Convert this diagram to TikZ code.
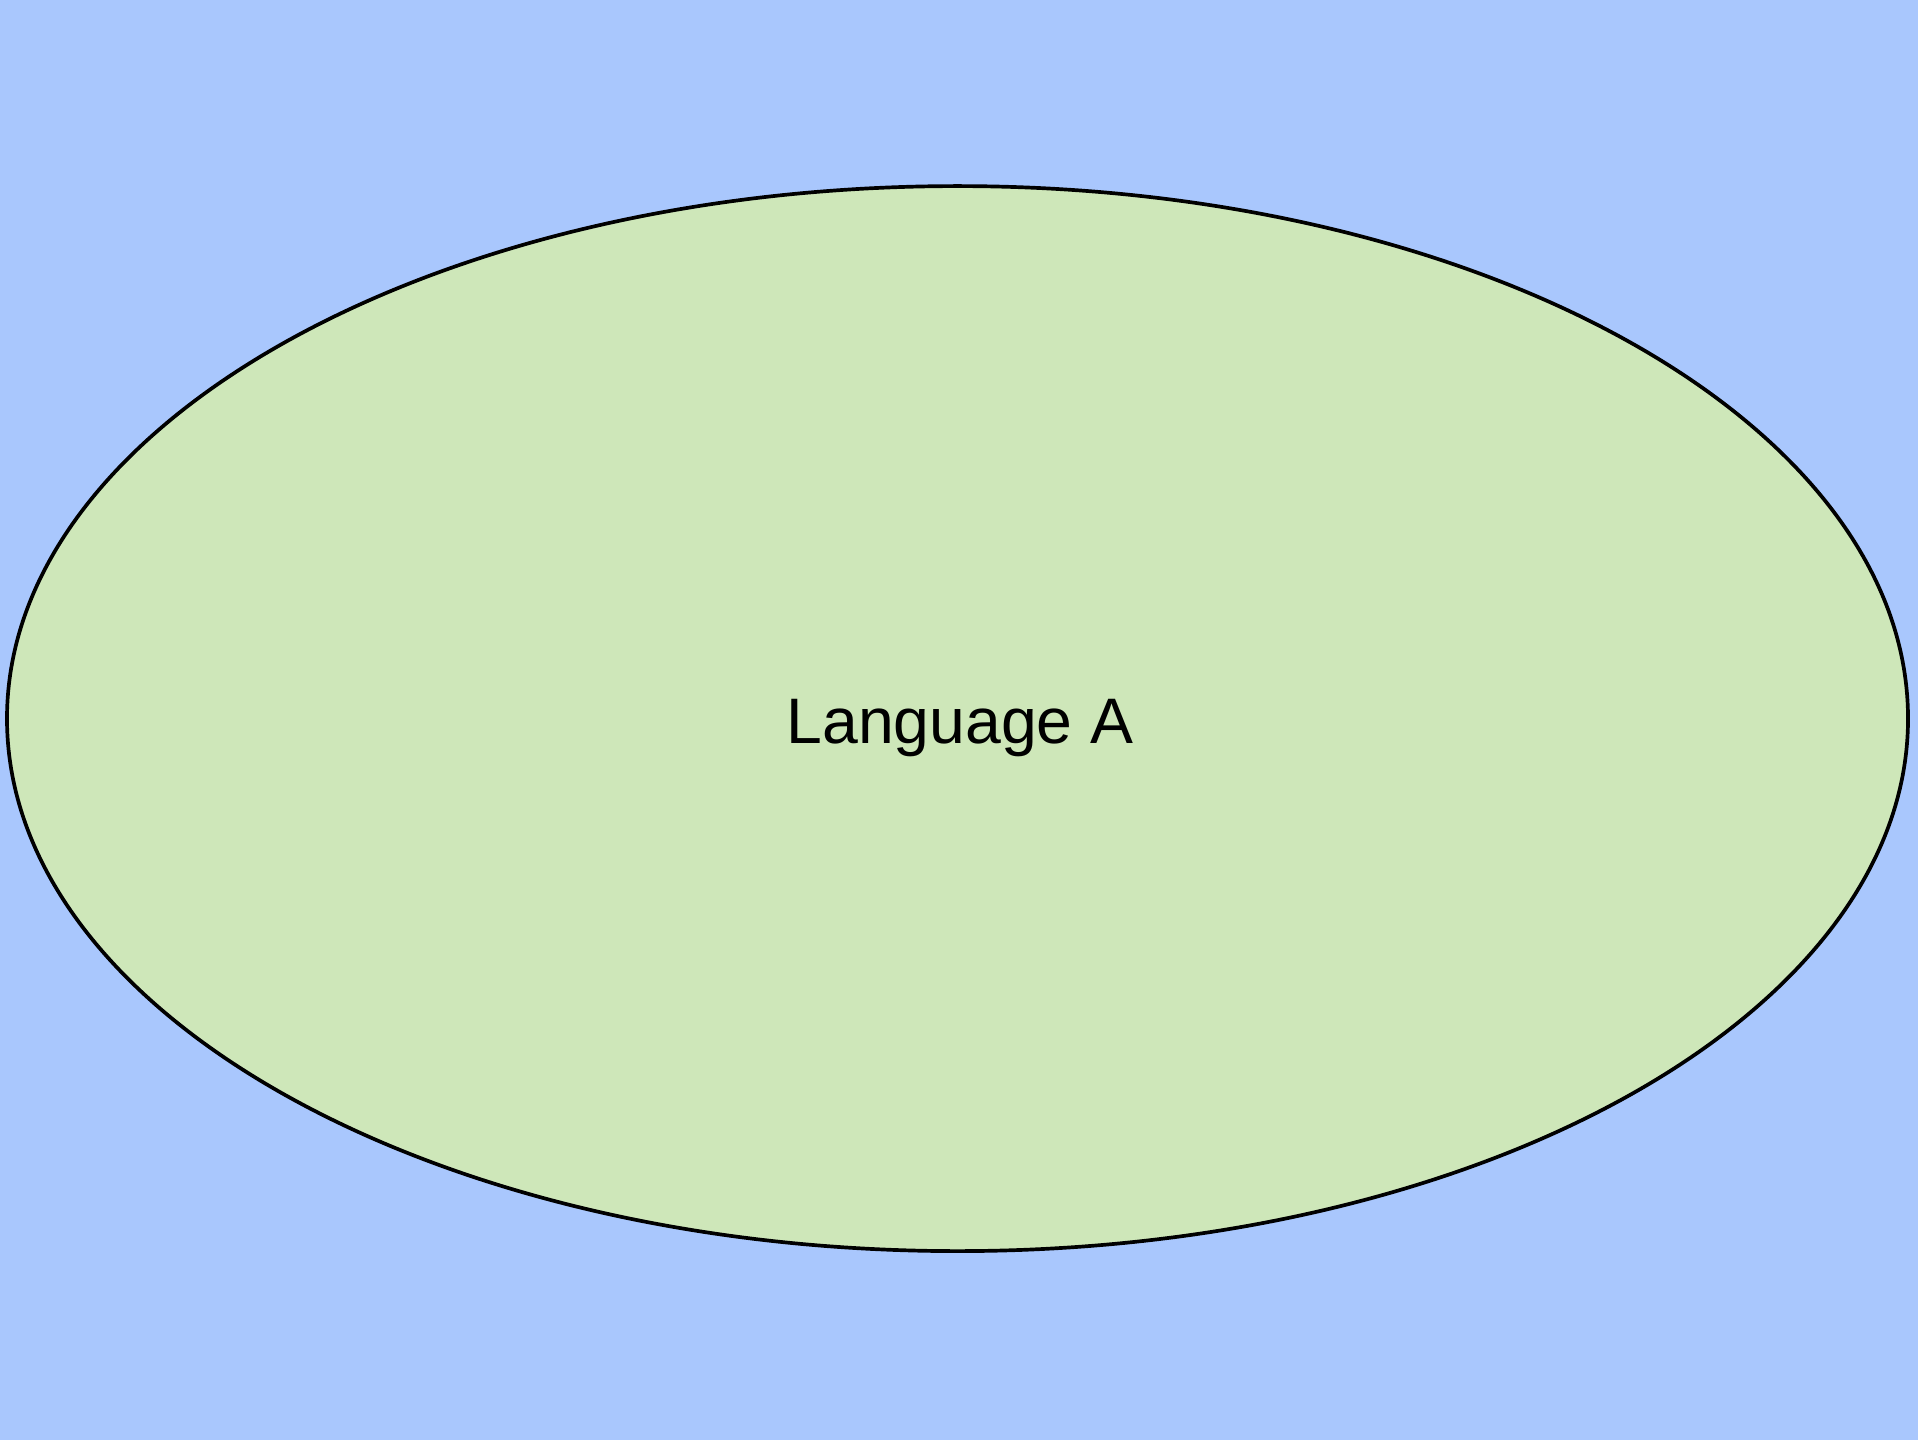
\documentclass[tikz,border=0pt]{standalone}
\usepackage{fontspec}
\setmainfont{Liberation Sans}
\usepackage{tikz}
\usetikzlibrary{shapes.geometric}
\definecolor{skyblue}{HTML}{A9C7FD}
\definecolor{leafgreen}{HTML}{CEE7B9}

\begin{document}
\begin{tikzpicture}[line width = 1.05pt, every node/.style = {inner sep=0pt}]
    \fill[skyblue] (0, 0) rectangle (19.18, 14.40);
    \useasboundingbox (0, 0) rectangle (19.18, 14.40);
    \node[ellipse, draw=black, fill=leafgreen, minimum width=19.01cm, minimum height=10.65cm] (langA) at (9.575, 7.214) {};
    \node[anchor=base] (langAtext) at (9.60, 6.97) {\fontsize{18.3}{22}\selectfont Language A};
\end{tikzpicture}
\end{document}
